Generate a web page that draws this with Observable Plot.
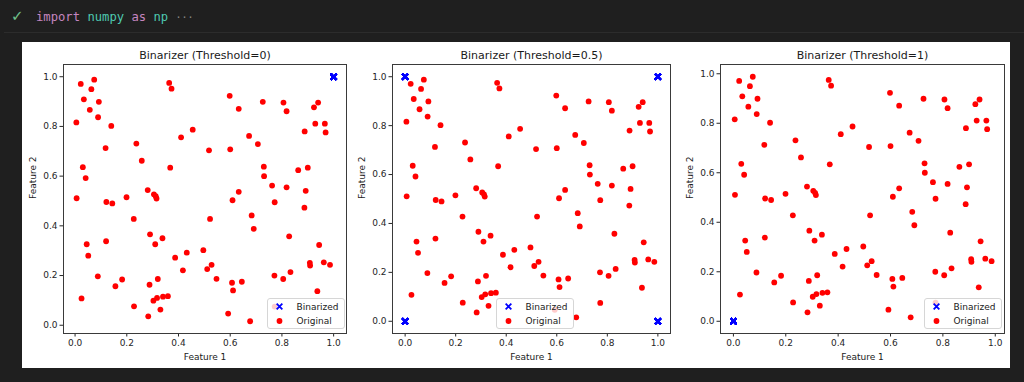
<!DOCTYPE html>
<html>
<head>
<meta charset="utf-8">
<script src="https://cdn.jsdelivr.net/npm/d3@7"></script>
<script src="https://cdn.jsdelivr.net/npm/@observablehq/plot@0.6"></script>
<style>
  html, body { margin: 0; padding: 0; }
  body { width: 1024px; height: 382px; background: #1f1f1f; position: relative; overflow: hidden; font-family: "DejaVu Sans", sans-serif; }
  .code { position: absolute; left: 36px; top: 9px; font-family: "DejaVu Sans Mono", monospace; font-size: 12.2px; line-height: 16px; white-space: pre; color: #d4d4d4; }
  .check { position: absolute; left: 11px; top: 7px; font-size: 15px; color: #6fc18c; font-family: "DejaVu Sans", sans-serif; }
  .divider { position: absolute; left: 4px; right: 0; top: 32px; height: 1px; background: #2c2c2c; }
  .figure { position: absolute; left: 22px; top: 42px; width: 988px; height: 326px; background: #ffffff; }
  .panel { position: absolute; }
  .legend { position: absolute; }
</style>
</head>
<body>
<div class="check">✓</div>
<div class="code"><span style="color:#c586c0">import</span> <span style="color:#4ec9b0">numpy</span> <span style="color:#c586c0">as</span> <span style="color:#4ec9b0">np</span> <span style="color:#8a8a8a;font-size:10px">···</span></div>
<div class="divider"></div>
<div class="figure"></div>
<div id="root"></div>
<script>
// ---- data ----
const featureX = [
  0.022, 0.074, 0.063, 0.034, 0.092, 0.057, 0.089, 0.005, 0.140, 0.118,
  0.030, 0.041, 0.006, 0.121, 0.144, 0.199, 0.227, 0.120, 0.045, 0.051,
  0.088, 0.025, 0.156, 0.182, 0.228, 0.283, 0.288, 0.303, 0.317, 0.320,
  0.330, 0.340, 0.359, 0.290, 0.310, 0.338, 0.281, 0.305, 0.312, 0.315,
  0.237, 0.258, 0.364, 0.373, 0.368, 0.410, 0.455, 0.387, 0.417, 0.432,
  0.496, 0.511, 0.528, 0.547, 0.522, 0.518, 0.598, 0.633, 0.600, 0.609,
  0.633, 0.592, 0.607, 0.611, 0.645, 0.677, 0.673, 0.707, 0.683, 0.691,
  0.726, 0.730, 0.731, 0.762, 0.772, 0.771, 0.806, 0.818, 0.818, 0.805,
  0.833, 0.828, 0.863, 0.888, 0.900, 0.892, 0.887, 0.924, 0.940, 0.929,
  0.966, 0.969, 0.944, 0.908, 0.909, 0.962, 0.986, 0.937, 0.772
];
const featureY = [
  0.971, 0.988, 0.950, 0.909, 0.899, 0.867, 0.837, 0.816, 0.802, 0.713,
  0.636, 0.592, 0.511, 0.496, 0.490, 0.515, 0.428, 0.338, 0.326, 0.280,
  0.197, 0.108, 0.157, 0.184, 0.076, 0.036, 0.163, 0.099, 0.110, 0.186,
  0.063, 0.115, 0.117, 0.366, 0.326, 0.350, 0.544, 0.527, 0.519, 0.510,
  0.731, 0.662, 0.975, 0.952, 0.634, 0.756, 0.787, 0.272, 0.221, 0.292,
  0.302, 0.226, 0.243, 0.187, 0.428, 0.704, 0.923, 0.871, 0.708, 0.503,
  0.537, 0.047, 0.171, 0.140, 0.175, 0.016, 0.762, 0.729, 0.442, 0.388,
  0.899, 0.638, 0.600, 0.562, 0.495, 0.200, 0.896, 0.861, 0.555, 0.186,
  0.214, 0.358, 0.624, 0.780, 0.634, 0.541, 0.473, 0.877, 0.896, 0.811,
  0.811, 0.776, 0.323, 0.251, 0.240, 0.253, 0.243, 0.137, 0.075
];
const thresholds = [0, 0.5, 1];
const tickValues = [0, 0.2, 0.4, 0.6, 0.8, 1.0];
const xLabel = "Feature 1";
const yLabel = "Feature 2";
const seriesNames = ["Binarized", "Original"];
const seriesColors = ["blue", "red"];

// ---- layout of the three panels (page pixels) ----
const panels = [
  {left: 22,  width: 330, marginLeft: 41, marginRight: 6,  legendLeft: 266.5},
  {left: 352, width: 328, marginLeft: 40, marginRight: 10, legendLeft: 495.5},
  {left: 680, width: 330, marginLeft: 40, marginRight: 6,  legendLeft: 923.5}
];
const svgTop = 42, svgHeight = 326, marginTop = 22, marginBottom = 35;
const legendTop = 297.5;

const original = featureX.map((x, i) => ({x, y: featureY[i]}));

function mplDomain(values) {
  const [lo, hi] = d3.extent(values);
  const pad = (hi - lo) * 0.05;
  return [lo - pad, hi + pad];
}

const root = document.getElementById("root");
const fmt = d3.format(".1f");

thresholds.forEach((t, k) => {
  const p = panels[k];
  const binarized = original.map(d => ({x: d.x > t ? 1 : 0, y: d.y > t ? 1 : 0}));
  const xDomain = mplDomain([...original.map(d => d.x), ...binarized.map(d => d.x)]);
  const yDomain = mplDomain([...original.map(d => d.y), ...binarized.map(d => d.y)]);

  const chart = Plot.plot({
    width: p.width,
    height: svgHeight,
    marginLeft: p.marginLeft,
    marginRight: p.marginRight,
    marginTop,
    marginBottom,
    style: {fontFamily: "DejaVu Sans, sans-serif", fontSize: "9px", color: "#262626", background: "transparent", overflow: "visible"},
    x: {domain: xDomain, ticks: tickValues, tickFormat: fmt, tickSize: 3.5, tickPadding: 2.5, label: null},
    y: {domain: yDomain, ticks: tickValues, tickFormat: fmt, tickSize: 3.5, tickPadding: 2.5, label: null},
    marks: [
      Plot.frame({stroke: "#3a3a3a", strokeWidth: 1}),
      Plot.dot(binarized, {x: "x", y: "y", symbol: "times", r: 2.7, stroke: seriesColors[0], strokeWidth: 1.8}),
      Plot.dot(original, {x: "x", y: "y", r: 2.9, fill: seriesColors[1], stroke: "none"}),
      Plot.text([`Binarizer (Threshold=${t})`], {frameAnchor: "top", lineAnchor: "bottom", dy: -6, fontSize: 11, fill: "#1a1a1a"}),
      Plot.text([xLabel], {frameAnchor: "bottom", lineAnchor: "middle", dy: 24, fontSize: 9, fill: "#1a1a1a"}),
      Plot.text([yLabel], {frameAnchor: "left", rotate: -90, dx: -30, fontSize: 9, fill: "#1a1a1a"})
    ]
  });
  chart.classList.add("panel");
  chart.style.left = p.left + "px";
  chart.style.top = svgTop + "px";
  root.appendChild(chart);

  // legend box (matplotlib-style, inside the axes)
  const lg = d3.create("svg")
    .attr("class", "legend")
    .attr("width", 78).attr("height", 31)
    .style("left", p.legendLeft + "px").style("top", legendTop + "px")
    .style("font-family", "DejaVu Sans, sans-serif").style("font-size", "9px");
  lg.append("rect").attr("x", 0.5).attr("y", 0.5).attr("width", 77).attr("height", 30).attr("rx", 2.5)
    .attr("fill", "rgba(255,255,255,0.8)").attr("stroke", "#d6d6d6");
  const sym = d3.symbol(d3.symbolTimes, Math.PI * 2.7 * 2.7)();
  lg.append("path").attr("d", sym).attr("transform", "translate(12.5,8.5)")
    .attr("fill", "none").attr("stroke", seriesColors[0]).attr("stroke-width", 1.8);
  lg.append("circle").attr("cx", 12.5).attr("cy", 23).attr("r", 2.9).attr("fill", seriesColors[1]);
  lg.append("text").attr("x", 29.5).attr("y", 8.5).attr("dy", "0.35em").attr("fill", "#1a1a1a").text(seriesNames[0]);
  lg.append("text").attr("x", 29.5).attr("y", 23).attr("dy", "0.35em").attr("fill", "#1a1a1a").text(seriesNames[1]);
  root.appendChild(lg.node());
});
</script>
</body>
</html>
